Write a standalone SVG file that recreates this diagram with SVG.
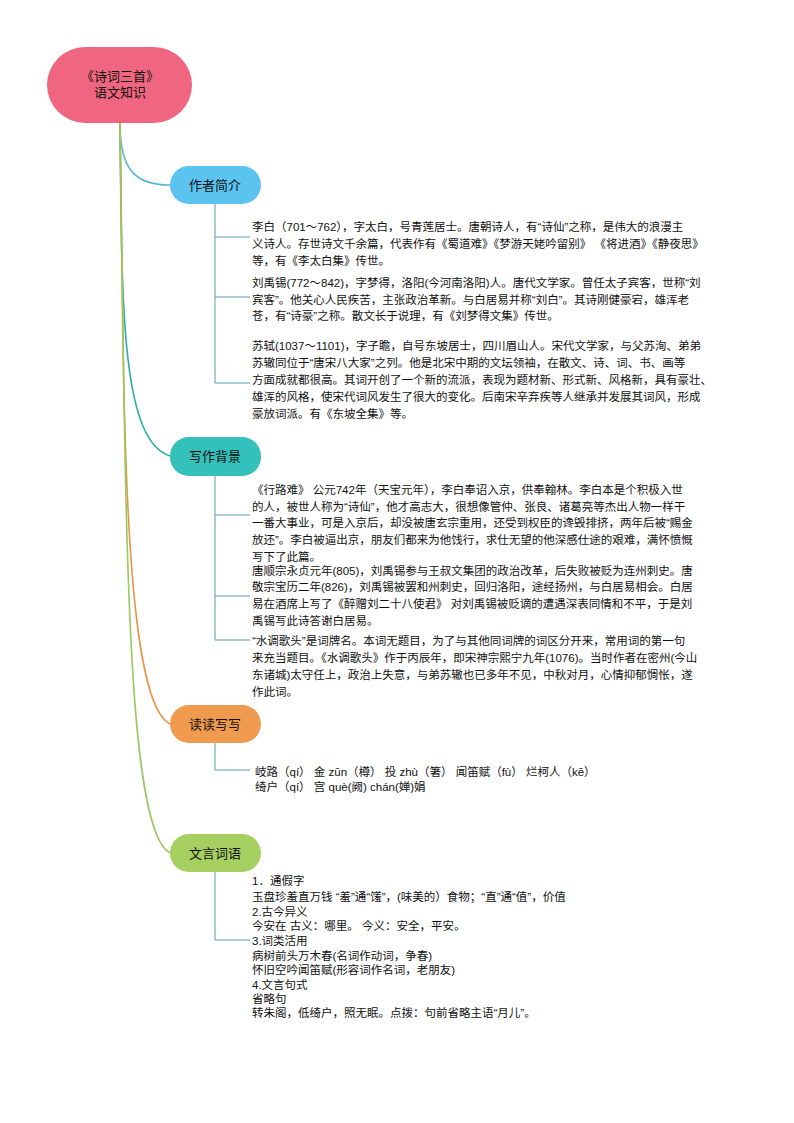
<svg xmlns="http://www.w3.org/2000/svg" width="794" height="1123" viewBox="0 0 794 1123">
<style>
text{font-family:"Liberation Sans","Noto Sans CJK SC",sans-serif;font-size:11.5px;fill:#111}
.n{font-size:13px;text-anchor:middle}
.br{fill:none;stroke-width:1.6}
.tk{fill:none;stroke:#5a9bb0;stroke-width:1}
</style>
<rect width="794" height="1123" fill="#fff"/>
<g id="connectors">
<path class="br" stroke="#5bb8d8" d="M120 123 C120 170,135 185,170 185"/>
<path class="br" stroke="#2aaea8" d="M120 123 C122 300,120 440,170 456"/>
<path class="br" stroke="#e8964a" d="M120 123 C124 400,122 700,170 724"/>
<path class="br" stroke="#98c860" d="M120 123 C126 500,124 830,170 853"/>
<path class="tk" d="M215 204 V383 M215 237 H250 M215 297 H250 M215 383 H250"/>
<path class="tk" d="M215 476 V640 M215 515 H250 M215 596 H250 M215 640 H250"/>
<path class="tk" d="M215 743 V770 H250"/>
<path class="tk" d="M215 872 V940 H250"/>
</g>
<g id="root"><rect x="47" y="47" width="145" height="76" rx="38" fill="#f06680"/><text class="n" x="120" y="81">《诗词三首》</text><text class="n" x="120" y="97">语文知识</text></g>
<g id="n1"><rect x="170" y="166" width="91" height="38" rx="19" fill="#5bc3ef"/><text class="n" x="215" y="190">作者简介</text></g>
<g id="n2"><rect x="170" y="437" width="91" height="39" rx="19" fill="#34c1bb"/><text class="n" x="215" y="461">写作背景</text></g>
<g id="n3"><rect x="170" y="705" width="91" height="38" rx="19" fill="#ef9a4e"/><text class="n" x="215" y="729">读读写写</text></g>
<g id="n4"><rect x="170" y="834" width="91" height="38" rx="19" fill="#a5d061"/><text class="n" x="215" y="858">文言词语</text></g>
<g id="t1">
<text x="252" y="231">李白（701～762），字太白，号青莲居士。唐朝诗人，有“诗仙”之称，是伟大的浪漫主</text>
<text x="252" y="248">义诗人。存世诗文千余篇，代表作有《蜀道难》《梦游天姥吟留别》  《将进酒》《静夜思》</text>
<text x="252" y="265">等，有《李太白集》传世。</text>
<text x="252" y="287">刘禹锡(772～842)，字梦得，洛阳(今河南洛阳)人。唐代文学家。曾任太子宾客，世称“刘</text>
<text x="252" y="304">宾客”。他关心人民疾苦，主张政治革新。与白居易并称“刘白”。其诗刚健豪宕，雄浑老</text>
<text x="252" y="320">苍，有“诗豪”之称。散文长于说理，有《刘梦得文集》传世。</text>
<text x="252" y="350">苏轼(1037～1101)，字子瞻，自号东坡居士，四川眉山人。宋代文学家，与父苏洵、弟弟</text>
<text x="252" y="367">苏辙同位于“唐宋八大家”之列。他是北宋中期的文坛领袖，在散文、诗、词、书、画等</text>
<text x="252" y="384">方面成就都很高。其词开创了一个新的流派，表现为题材新、形式新、风格新，具有豪壮、</text>
<text x="252" y="401">雄浑的风格，使宋代词风发生了很大的变化。后南宋辛弃疾等人继承并发展其词风，形成</text>
<text x="252" y="418">豪放词派。有《东坡全集》等。</text>
</g>
<g id="t2">
<text x="252" y="494">《行路难》  公元742年（天宝元年），李白奉诏入京，供奉翰林。李白本是个积极入世</text>
<text x="252" y="511">的人，被世人称为“诗仙”，他才高志大，很想像管仲、张良、诸葛亮等杰出人物一样干</text>
<text x="252" y="527">一番大事业，可是入京后，却没被唐玄宗重用，还受到权臣的谗毁排挤，两年后被“赐金</text>
<text x="252" y="544">放还”。李白被逼出京，朋友们都来为他饯行，求仕无望的他深感仕途的艰难，满怀愤慨</text>
<text x="252" y="561">写下了此篇。</text>
<text x="252" y="575">唐顺宗永贞元年(805)，刘禹锡参与王叔文集团的政治改革，后失败被贬为连州刺史。唐</text>
<text x="252" y="591">敬宗宝历二年(826)，刘禹锡被罢和州刺史，回归洛阳，途经扬州，与白居易相会。白居</text>
<text x="252" y="608">易在酒席上写了《醉赠刘二十八使君》 对刘禹锡被贬谪的遭遇深表同情和不平，于是刘</text>
<text x="252" y="625">禹锡写此诗答谢白居易。</text>
<text x="252" y="645">“水调歌头”是词牌名。本词无题目，为了与其他同词牌的词区分开来，常用词的第一句</text>
<text x="252" y="662">来充当题目。《水调歌头》作于丙辰年，即宋神宗熙宁九年(1076)。当时作者在密州(今山</text>
<text x="252" y="679">东诸城)太守任上，政治上失意，与弟苏辙也已多年不见，中秋对月，心情抑郁惆怅，遂</text>
<text x="252" y="696">作此词。</text>
</g>
<g id="t3">
<text x="255" y="776">岐路（qí）   金 zūn（樽）      投 zhù（箸）   闻笛赋（fù）      烂柯人（kē）</text>
<text x="255" y="791">绮户（qí）     宫 què(阙)              chán(婵)娟</text>
</g>
<g id="t4">
<text x="252" y="885">1．通假字</text>
<text x="252" y="901">玉盘珍羞直万钱   “羞”通“馐”，(味美的）食物；“直”通“值”，价值</text>
<text x="252" y="916">2.古今异义</text>
<text x="252" y="930">今安在      古义：哪里。   今义：安全，平安。</text>
<text x="252" y="945">3.词类活用</text>
<text x="252" y="960">病树前头万木春(名词作动词，争春)</text>
<text x="252" y="974">怀旧空吟闻笛赋(形容词作名词，老朋友)</text>
<text x="252" y="989">4.文言句式</text>
<text x="252" y="1003">省略句</text>
<text x="252" y="1017">转朱阁，低绮户，照无眠。点拨：句前省略主语“月儿”。</text>
</g>
</svg>
